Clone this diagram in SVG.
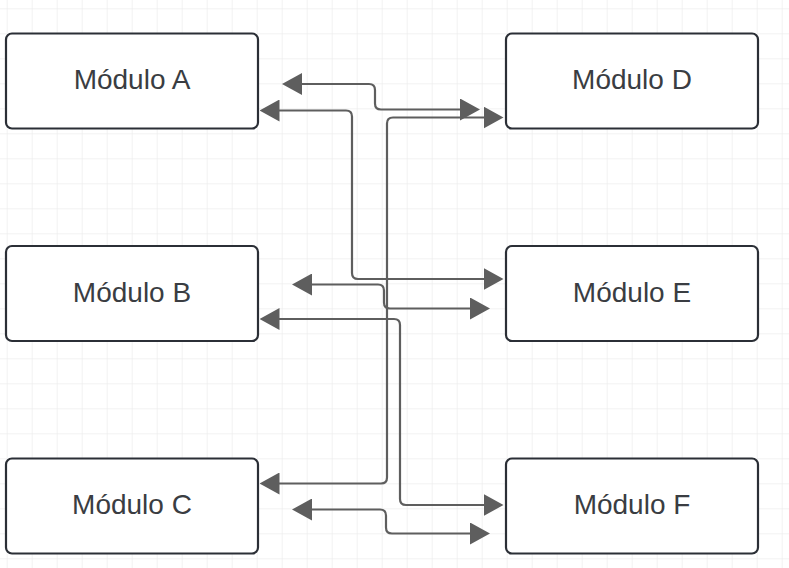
<svg xmlns="http://www.w3.org/2000/svg" width="789" height="568" viewBox="0 0 789 568">
  <defs>
    <pattern id="grid" x="6.7" y="8.3" width="25" height="25" patternUnits="userSpaceOnUse">
      <path d="M0,0 H25 M0,0 V25" fill="none" stroke="#e6e6e6" stroke-width="1"/>
    </pattern>
    <marker id="arr" viewBox="0 0 20 22" refX="10" refY="11" markerWidth="20" markerHeight="22" markerUnits="userSpaceOnUse" orient="auto-start-reverse">
      <path d="M0,0 L20,11 L0,22 Z" fill="#5e5e5e"/>
    </marker>
  </defs>
  <style>
    .node rect { fill: #ffffff; stroke: #2b2f36; stroke-width: 2.2; }
    .node text { font-family: "Liberation Sans", Arial, sans-serif; font-size: 28px; fill: #3a3d42; text-anchor: middle; }
    .conn path { fill: none; stroke: #5e5e5e; stroke-width: 2.2; marker-start: url(#arr); marker-end: url(#arr); }
  </style>
  <rect x="0" y="0" width="789" height="568" fill="#ffffff"/>
  <rect x="0" y="0" width="789" height="568" fill="url(#grid)"/>

  <g id="modulo-a" class="node"><rect x="6" y="33.5" width="252" height="95" rx="6"/><text x="132" y="89">Módulo A</text></g>
  <g id="modulo-b" class="node"><rect x="6" y="246" width="252" height="95" rx="6"/><text x="132" y="301.5">Módulo B</text></g>
  <g id="modulo-c" class="node"><rect x="6" y="458.5" width="252" height="95" rx="6"/><text x="132" y="514">Módulo C</text></g>
  <g id="modulo-d" class="node"><rect x="506" y="33.5" width="252" height="95" rx="6"/><text x="632" y="89">Módulo D</text></g>
  <g id="modulo-e" class="node"><rect x="506" y="246" width="252" height="95" rx="6"/><text x="632" y="301.5">Módulo E</text></g>
  <g id="modulo-f" class="node"><rect x="506" y="458.5" width="252" height="95" rx="6"/><text x="632" y="514">Módulo F</text></g>

  <g id="connectors" class="conn">
    <path d="M292,84 H369 Q375,84 375,90 V103.5 Q375,109.5 381,109.5 H470"/>
    <path d="M269.5,110.5 H346 Q352,110.5 352,116.5 V273 Q352,279 358,279 H493.5"/>
    <path d="M493.5,117.5 H393 Q387,117.5 387,123.5 V477.5 Q387,483.5 381,483.5 H269.5"/>
    <path d="M302,284.5 H378 Q384,284.5 384,290.5 V302.5 Q384,308.5 390,308.5 H480"/>
    <path d="M269.5,319 H394 Q400,319 400,325 V499 Q400,505 406,505 H493.5"/>
    <path d="M302,509.5 H380 Q386,509.5 386,515.5 V527.5 Q386,533.5 392,533.5 H480"/>
  </g>
</svg>
